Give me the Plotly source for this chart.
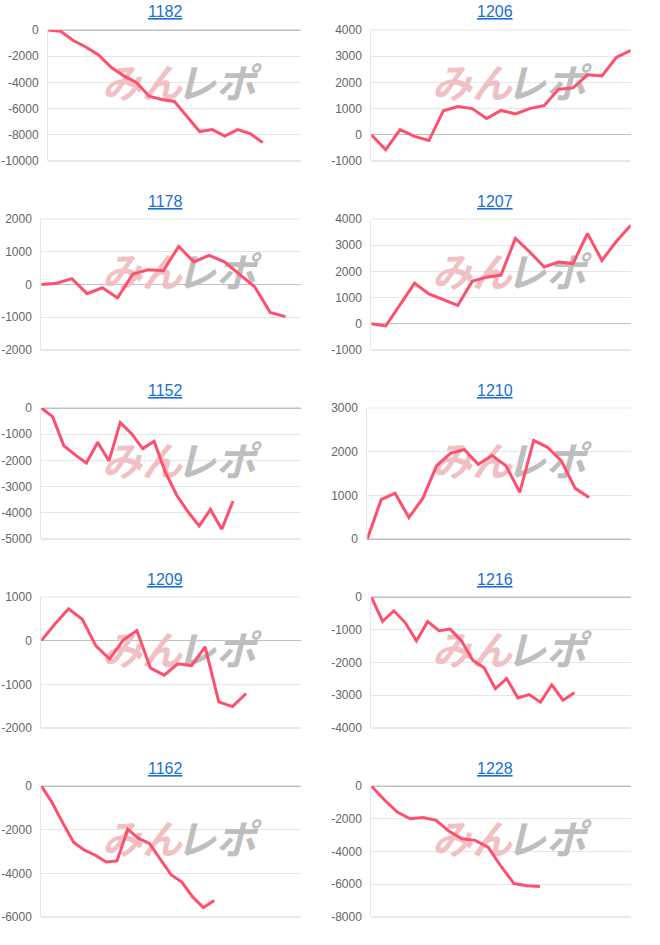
import plotly.graph_objects as go

# ---- data ----
titles = ["1182", "1206", "1178", "1207", "1152", "1210", "1209", "1216", "1162", "1228"]

v1182 = [0, -100, -800, -1300, -1900, -2850, -3500, -4000, -5050, -5300, -5450,
         -6600, -7750, -7600, -8100, -7600, -7900, -8600]
v1206 = [0, -570, 200, -60, -220, 920, 1080, 1000, 620, 930, 800, 1000, 1120,
         1740, 1790, 2290, 2250, 2950, 3220]
v1178 = [0, 40, 180, -280, -100, -410, 320, 450, 420, 1160, 690, 890, 690, 300,
         -80, -850, -980]
v1207 = [0, -80, 730, 1550, 1140, 920, 700, 1620, 1780, 1860, 3260, 2740, 2170,
         2360, 2300, 3450, 2420, 3140, 3760]
v1152 = [0, -330, -1440, -1790, -2100, -1310, -2020, -560, -980, -1550, -1270,
         -2450, -3320, -3960, -4500, -3870, -4630, -3550]
v1210 = [0, 900, 1050, 490, 930, 1680, 1960, 2050, 1710, 1910, 1680, 1070, 2260,
         2100, 1790, 1160, 950]
v1209 = [0, 380, 730, 490, -120, -420, 15, 230, -630, -790, -530, -570, -140,
         -1400, -1510, -1210]
v1216 = [0, -740, -420, -780, -1340, -750, -1030, -980, -1340, -1930, -2160,
         -2800, -2490, -3080, -2980, -3210, -2680, -3150, -2920]
v1162 = [0, -760, -1700, -2590, -2940, -3170, -3480, -3430, -1980, -2400, -2630,
         -3350, -4060, -4400, -5080, -5570, -5240]
v1228 = [0, -840, -1590, -2000, -1920, -2100, -2770, -3220, -3320, -3730, -4900,
         -5960, -6090, -6130]

series = [v1182, v1206, v1178, v1207, v1152, v1210, v1209, v1216, v1162, v1228]

# number of category slots on each x axis
slots = [21, 19, 18, 19, 24, 20, 20, 24, 25, 21]

# y axis settings: min, max, step
y_min = [-10000, -1000, -2000, -1000, -5000, 0, -2000, -4000, -6000, -8000]
y_max = [0, 4000, 2000, 4000, 0, 3000, 1000, 0, 0, 0]
y_step = [2000, 1000, 1000, 1000, 1000, 1000, 1000, 1000, 2000, 2000]

wm_left = "みん"
wm_right = "レポ"

# ---- layout geometry (pixels) ----
W, H = 660, 945
row_tops = [30, 219, 408, 597, 786]
plot_h = 131
rights = [300.7, 630.7]
lefts = [48, 371.3, 41.3, 371.3, 41.3, 367.3, 41.3, 371.3, 41.3, 371.3]


def fx(px):
    return px / W


def fy(py):
    return 1 - py / H


LINE = "#ff4f6e"
GRID = "#e6e6e6"
ZERO = "#bfbfbf"
BOTTOM = "#d0d0d0"
TICK_FONT = dict(family="Liberation Sans, Arial, sans-serif", size=12, color="#666666")

fig = go.Figure()
layout = dict(
    width=W, height=H,
    margin=dict(l=0, r=0, t=0, b=0, pad=0, autoexpand=False),
    paper_bgcolor="white", plot_bgcolor="white",
    showlegend=False,
    annotations=[], shapes=[],
)

for i, vals in enumerate(series):
    row, col = divmod(i, 2)
    T = row_tops[row]
    B = T + plot_h
    L = lefts[i]
    R = rights[col]
    n = slots[i] - 1
    ax = "" if i == 0 else str(i + 1)
    xname, yname = "x" + ax, "y" + ax

    def px2x(px):
        return (px - L) / (R - L) * n

    def py2y(p):
        return y_max[i] - (p - T) / plot_h * (y_max[i] - y_min[i])

    # watermark (drawn beneath the line)
    cx0 = 0 if col == 0 else 330
    py = T + 58
    fig.add_trace(go.Scatter(
        x=[px2x(cx0 + 142)], y=[py2y(py)], mode="text", text=[wm_left],
        textfont=dict(family="Noto Sans CJK JP", size=40, color="#f0c0c3",
                      weight="bold", style="italic"),
        hoverinfo="skip", xaxis=xname, yaxis=yname, cliponaxis=False))
    fig.add_trace(go.Scatter(
        x=[px2x(cx0 + 216)], y=[py2y(py)], mode="text", text=[wm_right],
        textfont=dict(family="Noto Sans CJK JP", size=40, color="#bebebe",
                      weight="bold", style="italic"),
        hoverinfo="skip", xaxis=xname, yaxis=yname, cliponaxis=False))

    fig.add_trace(go.Scatter(
        x=list(range(len(vals))), y=vals, mode="lines",
        line=dict(color=LINE, width=3),
        xaxis=xname, yaxis=yname, cliponaxis=False, hoverinfo="skip"))

    layout["xaxis" + ax] = dict(
        domain=[fx(L), fx(R)], range=[0, n], anchor=yname,
        showticklabels=False, showgrid=False, zeroline=False, automargin=False,
        showline=False, ticks="", fixedrange=True)
    tv = list(range(y_min[i], y_max[i] + 1, y_step[i]))
    layout["yaxis" + ax] = dict(
        domain=[fy(B), fy(T)], range=[y_min[i], y_max[i]], anchor=xname,
        tickvals=tv, ticktext=[str(v) for v in tv], tickfont=TICK_FONT,
        showgrid=True, gridcolor=GRID, gridwidth=1, automargin=False,
        zeroline=True, zerolinecolor=ZERO, zerolinewidth=1,
        showline=True, linecolor=GRID, linewidth=1, layer="below traces",
        ticks="", ticklabelstandoff=6, fixedrange=True)

    # edge lines (top / bottom of plot area)
    top_c = ZERO if y_max[i] == 0 else GRID
    bot_c = ZERO if y_min[i] == 0 else BOTTOM
    for yv, c in ((1, top_c), (0, bot_c)):
        layout["shapes"].append(dict(
            type="line", xref=xname + " domain", yref=yname + " domain",
            x0=0, x1=1, y0=yv, y1=yv, line=dict(color=c, width=1), layer="below"))

    # title
    layout["annotations"].append(dict(
        text='<span style="text-decoration:underline">' + titles[i] + "</span>",
        xref="paper", yref="paper", x=fx(165 if col == 0 else 495),
        y=fy(T - 18), xanchor="center", yanchor="middle", showarrow=False,
        font=dict(family="Liberation Sans, Arial, sans-serif", size=16, color="#1a6fd6")))

fig.update_layout(**layout)
fig.write_html("out.html", config={"displayModeBar": False},
               post_script="document.body.style.margin='0';")
